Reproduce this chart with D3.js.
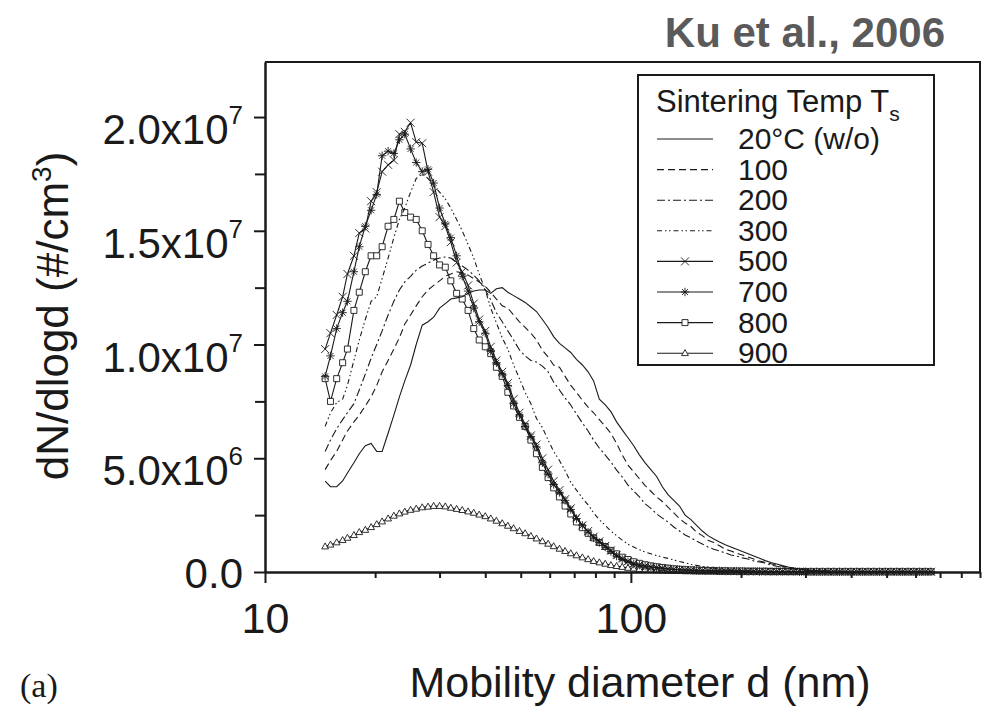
<!DOCTYPE html>
<html>
<head>
<meta charset="utf-8">
<script src="https://cdn.jsdelivr.net/npm/d3@7"></script>
<style>
  body { margin: 0; background: #fff; }
</style>
</head>
<body>
<div id="chart"></div>
<script>
'use strict';

// SMPS channel midpoints (nm)
const diameters = [
  14.6, 15.1, 15.7, 16.3, 16.8, 17.5, 18.1, 18.8, 19.5, 20.2,
  20.9, 21.7, 22.5, 23.3, 24.1, 25.0, 25.9, 26.9, 27.9, 28.9,
  30.0, 31.1, 32.2, 33.4, 34.6, 35.9, 37.2, 38.5, 40.0, 41.4,
  42.9, 44.5, 46.1, 47.8, 49.6, 51.4, 53.3, 55.2, 57.3, 59.4,
  61.5, 63.8, 66.1, 68.5, 71.0, 73.7, 76.4, 79.1, 82.0, 85.1,
  88.2, 91.4, 94.7, 98.2, 101.8, 105.5, 109.4, 113.4, 117.6, 121.9,
  126.3, 131.0, 135.8, 140.7, 145.9, 151.2, 156.8, 162.5, 168.5, 174.7,
  181.1, 187.7, 194.6, 201.7, 209.1, 216.7, 224.7, 232.9, 241.4, 250.3,
  259.5, 269.0, 278.8, 289.0, 299.6, 310.6, 322.0, 333.8, 346.0, 358.7,
  371.8, 385.4, 399.5, 414.2, 429.4, 445.1, 461.4, 478.3, 495.8, 514.0,
  532.8, 552.3, 572.5, 593.5, 615.3, 637.8, 661.2
];

// dN/dlogd in units of 1e6 #/cm3
const t20 = [
  4.0, 3.75, 3.75, 4.0, 4.35, 4.8, 5.2, 5.55, 5.65, 5.3,
  5.3, 6.1, 6.9, 7.7, 8.4, 9.1, 10.0, 10.85, 11.0, 11.2,
  11.6, 11.8, 12.0, 12.05, 12.1, 12.25, 12.35, 12.4, 12.4, 12.25,
  12.45, 12.5, 12.3, 12.15, 12.0, 11.85, 11.65, 11.45, 11.1, 10.75,
  10.35, 10.05, 9.85, 9.65, 9.35, 9.1, 8.8, 8.4, 7.6, 7.35,
  7.05, 6.6, 6.25, 5.9, 5.55, 5.15, 4.8, 4.5, 4.2, 3.75,
  3.4, 3.15, 2.9, 2.5, 2.3, 2.05, 1.8, 1.6, 1.45, 1.32,
  1.2, 1.1, 1.0, 0.9, 0.8, 0.7, 0.6, 0.5, 0.42, 0.35,
  0.28, 0.22, 0.17, 0.13, 0.1, 0.07, 0.05, 0.04, 0.03, 0.03,
  0.02, 0.02, 0.02, 0.01, 0.01, 0.01, 0.01, 0.01, 0.01, 0.01,
  0.01, 0.01, 0.0, 0.01, 0.0, 0.0, 0.01
];
const t100 = [
  4.5, 4.9, 5.3, 5.8, 6.2, 6.6, 6.9, 7.3, 7.7, 8.2,
  8.8, 9.3, 9.8, 10.3, 10.9, 11.3, 11.7, 12.1, 12.4, 12.6,
  12.8, 13.0, 13.1, 13.2, 13.15, 13.05, 12.9, 12.75, 12.55, 12.3,
  12.0, 11.7, 11.6, 11.3, 11.0, 10.75, 10.5, 10.2, 9.75, 9.45,
  9.1, 9.0, 8.6, 8.2, 7.9, 7.55, 7.25, 7.0, 6.7, 6.4,
  6.1, 5.65, 5.15, 4.7, 4.4, 4.1, 3.8, 3.55, 3.3, 3.1,
  2.85, 2.6, 2.35, 2.15, 2.0, 1.75, 1.6, 1.4, 1.3, 1.15,
  1.0, 0.92, 0.83, 0.75, 0.66, 0.57, 0.48, 0.42, 0.36, 0.3,
  0.25, 0.2, 0.16, 0.13, 0.1, 0.08, 0.06, 0.05, 0.04, 0.03,
  0.03, 0.02, 0.02, 0.02, 0.01, 0.01, 0.01, 0.01, 0.01, 0.01,
  0.01, 0.0, 0.01, 0.0, 0.0, 0.01, 0.0
];
const t200 = [
  5.3, 5.8, 6.3, 6.7, 7.0, 7.4, 8.0, 8.7, 9.4, 10.0,
  10.6, 11.3, 11.9, 12.4, 12.75, 13.0, 13.27, 13.45, 13.58, 13.71,
  13.8, 13.85, 13.8, 13.6, 13.45, 13.27, 13.05, 12.8, 12.4, 11.96,
  11.4, 11.0, 10.6, 10.2, 9.76, 9.5, 9.3, 9.23, 9.05, 8.8,
  8.35, 8.0, 7.65, 7.34, 6.95, 6.55, 6.2, 5.8, 5.45, 5.14,
  4.84, 4.48, 4.18, 3.82, 3.56, 3.3, 3.0, 2.8, 2.55, 2.37,
  2.2, 1.98, 1.8, 1.63, 1.5, 1.36, 1.23, 1.1, 1.0, 0.92,
  0.84, 0.75, 0.7, 0.62, 0.57, 0.48, 0.44, 0.4, 0.3, 0.25,
  0.2, 0.16, 0.13, 0.1, 0.08, 0.06, 0.05, 0.04, 0.03, 0.02,
  0.02, 0.02, 0.01, 0.01, 0.01, 0.01, 0.01, 0.01, 0.0, 0.01,
  0.01, 0.0, 0.0, 0.01, 0.0, 0.0, 0.0
];
const t300 = [
  6.4, 7.0, 7.45, 7.6, 8.2, 9.3, 10.2, 11.1, 11.9, 12.1,
  12.9, 13.8, 14.7, 15.5, 16.0, 16.7, 17.3, 17.5, 17.3, 17.0,
  16.7, 16.4, 16.0, 15.5, 15.0, 14.4, 13.8, 13.1, 12.4, 11.6,
  10.95, 10.3, 9.8, 9.1, 8.5, 7.9, 7.4, 6.75, 6.35, 5.8,
  5.3, 4.9, 4.45, 3.95, 3.6, 3.25, 2.95, 2.6, 2.3, 2.05,
  1.8, 1.6, 1.4, 1.22, 1.1, 0.98, 0.88, 0.8, 0.72, 0.66,
  0.6, 0.53, 0.46, 0.4, 0.34, 0.29, 0.25, 0.21, 0.17, 0.14,
  0.11, 0.09, 0.07, 0.06, 0.05, 0.04, 0.03, 0.03, 0.02, 0.02,
  0.02, 0.01, 0.01, 0.01, 0.01, 0.01, 0.01, 0.0, 0.01, 0.0,
  0.0, 0.01, 0.0, 0.0, 0.0, 0.0, 0.0, 0.0, 0.0, 0.0,
  0.0, 0.0, 0.0, 0.0, 0.0, 0.0, 0.0
];
const t500 = [
  9.8, 10.5, 11.3, 12.1, 13.1, 13.9, 14.9, 15.1, 16.3, 16.7,
  17.6, 17.9, 18.1, 19.25, 19.35, 19.75, 18.9, 18.85, 17.6, 16.7,
  15.6, 15.2, 14.5, 13.6, 13.2, 12.6, 11.8, 11.1, 10.6, 9.9,
  9.3, 8.8, 8.3, 7.6, 7.0, 6.5, 6.0, 5.6, 5.0, 4.5,
  4.0, 3.6, 3.2, 2.8, 2.4, 2.05, 1.8, 1.55, 1.35, 1.15,
  0.95, 0.75, 0.6, 0.48, 0.38, 0.32, 0.27, 0.23, 0.2, 0.17,
  0.14, 0.12, 0.1, 0.09, 0.08, 0.07, 0.06, 0.06, 0.05, 0.05,
  0.04, 0.04, 0.04, 0.03, 0.03, 0.03, 0.03, 0.02, 0.02, 0.02,
  0.02, 0.02, 0.02, 0.02, 0.01, 0.01, 0.01, 0.01, 0.01, 0.01,
  0.01, 0.01, 0.01, 0.01, 0.01, 0.01, 0.01, 0.01, 0.01, 0.01,
  0.01, 0.01, 0.01, 0.01, 0.01, 0.01, 0.01
];
const t700 = [
  8.6, 9.5, 10.7, 11.4, 11.9, 13.2, 14.3, 15.2, 15.9, 16.6,
  18.3, 18.5, 18.4, 19.0, 19.25, 18.6, 18.0, 17.6, 17.7, 17.1,
  16.0, 15.3, 14.7, 13.9, 13.0, 12.35, 11.6, 11.0, 10.5, 9.7,
  9.2, 8.7, 8.2, 7.4, 6.9, 6.4, 5.95, 5.5, 4.8, 4.3,
  3.85, 3.5, 3.15, 2.75, 2.35, 2.05, 1.75, 1.5, 1.3, 1.1,
  0.9, 0.7, 0.55, 0.45, 0.35, 0.3, 0.26, 0.22, 0.19, 0.16,
  0.13, 0.11, 0.1, 0.09, 0.08, 0.07, 0.06, 0.06, 0.05, 0.05,
  0.04, 0.04, 0.04, 0.03, 0.03, 0.03, 0.02, 0.02, 0.02, 0.02,
  0.02, 0.02, 0.02, 0.01, 0.01, 0.01, 0.01, 0.01, 0.01, 0.01,
  0.01, 0.01, 0.01, 0.01, 0.01, 0.01, 0.01, 0.01, 0.01, 0.01,
  0.01, 0.01, 0.01, 0.01, 0.01, 0.01, 0.01
];
const t800 = [
  8.5, 7.5, 8.5, 9.2, 9.8, 11.5, 12.3, 13.2, 13.9, 13.9,
  14.3, 15.2, 15.5, 16.3, 15.8, 15.6, 15.5, 15.0, 14.4, 13.9,
  13.5, 13.4, 12.8, 12.25, 12.0, 11.5, 10.7, 10.2, 9.9, 9.6,
  9.0, 8.6, 7.9, 7.3, 6.8, 6.4, 5.8, 5.2, 4.6, 4.15,
  3.7, 3.3, 2.9, 2.55, 2.2, 1.95, 1.7, 1.5, 1.3, 1.12,
  0.95, 0.8, 0.65, 0.55, 0.45, 0.38, 0.32, 0.27, 0.23, 0.2,
  0.17, 0.14, 0.12, 0.1, 0.09, 0.08, 0.07, 0.06, 0.06, 0.05,
  0.05, 0.04, 0.04, 0.04, 0.03, 0.03, 0.03, 0.03, 0.02, 0.02,
  0.02, 0.02, 0.02, 0.02, 0.02, 0.01, 0.01, 0.01, 0.01, 0.01,
  0.01, 0.01, 0.01, 0.01, 0.01, 0.01, 0.01, 0.01, 0.01, 0.01,
  0.01, 0.01, 0.01, 0.01, 0.01, 0.01, 0.01
];
const t900 = [
  1.12, 1.2, 1.3, 1.4, 1.5, 1.62, 1.75, 1.85, 1.97, 2.1,
  2.22, 2.35, 2.47, 2.57, 2.65, 2.73, 2.78, 2.84, 2.87, 2.9,
  2.9, 2.88, 2.82, 2.77, 2.72, 2.66, 2.6, 2.52, 2.45, 2.35,
  2.25, 2.14, 2.03, 1.92, 1.8, 1.7, 1.58, 1.47, 1.35, 1.24,
  1.13, 1.02, 0.92, 0.82, 0.73, 0.64, 0.56, 0.48, 0.42, 0.36,
  0.3, 0.26, 0.22, 0.18, 0.15, 0.12, 0.1, 0.08, 0.07, 0.06,
  0.05, 0.04, 0.04, 0.03, 0.03, 0.02, 0.02, 0.02, 0.02, 0.01,
  0.01, 0.01, 0.01, 0.01, 0.01, 0.01, 0.01, 0.01, 0.01, 0.01,
  0.01, 0.01, 0.01, 0.01, 0.01, 0.01, 0.01, 0.01, 0.01, 0.01,
  0.01, 0.01, 0.01, 0.01, 0.01, 0.01, 0.01, 0.01, 0.01, 0.01,
  0.01, 0.01, 0.01, 0.01, 0.01, 0.01, 0.01
];

const series_names = ['20°C (w/o)', '100', '200', '300', '500', '700', '800', '900'];
const series_values = [t20, t100, t200, t300, t500, t700, t800, t900];

const y_ticks = [0, 5e6, 1e7, 1.5e7, 2e7];
const y_minor_ticks = [2.5e6, 7.5e6, 1.25e7, 1.75e7];
const y_tick_labels = [['0.0', ''], ['5.0x10', '6'], ['1.0x10', '7'], ['1.5x10', '7'], ['2.0x10', '7']];
const x_ticks = [10, 100];
const x_minor_ticks = [20, 30, 40, 50, 60, 70, 80, 90, 200, 300, 400, 500, 600, 700, 800, 900];
const x_tick_labels = ['10', '100'];

// line style per series
const styles = [
  {dash: null, marker: null},
  {dash: '7,4', marker: null},
  {dash: '8,3,2,3', marker: null},
  {dash: '5,3,1.5,2.5,1.5,3', marker: null},
  {dash: null, marker: 'times'},
  {dash: null, marker: 'asterisk'},
  {dash: null, marker: 'square'},
  {dash: null, marker: 'triangle'}
];

const font = "'Liberation Sans', Arial, Helvetica, sans-serif";
const ink = '#1a1a1a';

function marker_path(type){
  if(type === 'times'){
    const s = 4;
    return `M${-s},${-s}L${s},${s}M${-s},${s}L${s},${-s}`;
  }else if(type === 'asterisk'){
    const s = 4.2, k = 3;
    return `M0,${-s}V${s}M${-s},0H${s}M${-k},${-k}L${k},${k}M${-k},${k}L${k},${-k}`;
  }else if(type === 'square'){
    const s = 3;
    return `M${-s},${-s}H${s}V${s}H${-s}Z`;
  }else if(type === 'triangle'){
    return 'M0,-3.6L3.4,2.4H-3.4Z';
  }
  return '';
}

function draw_chart(options){
  const chart = {
    chart_id: 'chart',
    width: 987,
    height: 708,
    margin_left: 265,
    margin_right: 7,
    margin_top: 62,
    margin_bottom: 136
  };
  Object.keys(options).map(function(key){
    if(options[key] !== null && typeof(chart[key]) !== 'undefined'){
      chart[key] = options[key];
    }
  });

  const dims = {
    width: chart.width,
    height: chart.height,
    margin: {top: chart.margin_top, bottom: chart.margin_bottom, left: chart.margin_left, right: chart.margin_right}
  };
  dims.ctrWidth = dims.width - dims.margin.left - dims.margin.right;
  dims.ctrHeight = dims.height - dims.margin.top - dims.margin.bottom;

  const svg_el = d3.select('#' + chart.chart_id)
    .append('svg')
    .attr('width', dims.width)
    .attr('height', dims.height)
    .style('font-family', font);

  const chart_g = svg_el.append('g')
    .attr('transform', `translate(${dims.margin.left}, ${dims.margin.top})`);

  // scales
  const x_scale = d3.scaleLog()
    .domain([10, 900])
    .range([0, dims.ctrWidth]);

  const y_scale = d3.scaleLinear()
    .domain([0, 2.242e7])
    .range([dims.ctrHeight, 0]);

  // curves
  const line = d3.line()
    .x(d => x_scale(d.d))
    .y(d => y_scale(d.v * 1e6));

  const series = series_values.map((vals, i) => {
    return {name: series_names[i], style: styles[i], points: diameters.map((d, j) => ({d: d, v: vals[j]}))};
  });

  const curves_g = chart_g.append('g');
  series.slice().reverse().forEach(s => {
    curves_g.append('path')
      .datum(s.points)
      .attr('d', line)
      .attr('fill', 'none')
      .attr('stroke', ink)
      .attr('stroke-width', 1.1)
      .attr('stroke-dasharray', s.style.dash);

    if(s.style.marker !== null){
      const filled = s.style.marker === 'square' || s.style.marker === 'triangle';
      curves_g.append('g')
        .selectAll('path')
        .data(s.points)
        .join('path')
        .attr('transform', d => `translate(${x_scale(d.d)},${y_scale(d.v * 1e6)})`)
        .attr('d', marker_path(s.style.marker))
        .attr('fill', filled ? '#fff' : 'none')
        .attr('stroke', ink)
        .attr('stroke-width', 0.9);
    }
  });

  // frame on top and right
  chart_g.append('path')
    .attr('d', `M0,0H${dims.ctrWidth}V${dims.ctrHeight}`)
    .attr('fill', 'none')
    .attr('stroke', ink)
    .attr('stroke-width', 2);

  // x axis
  const x_axis_g = chart_g.append('g')
    .attr('transform', `translate(0,${dims.ctrHeight})`);
  x_axis_g.call(d3.axisBottom(x_scale).tickValues(x_minor_ticks).tickSize(6).tickSizeOuter(0).tickFormat(''));
  x_axis_g.append('g').call(d3.axisBottom(x_scale).tickValues(x_ticks).tickSize(11).tickSizeOuter(0)
    .tickFormat((d, i) => x_tick_labels[i]));
  x_axis_g.selectAll('.domain').attr('stroke', ink).attr('stroke-width', 2);
  x_axis_g.selectAll('line').attr('stroke', ink).attr('stroke-width', 2);
  x_axis_g.selectAll('text')
    .attr('y', 30)
    .attr('dy', '0.71em')
    .attr('fill', ink)
    .style('font-family', font)
    .style('font-size', '43px');

  // y axis
  const y_axis_g = chart_g.append('g');
  y_axis_g.call(d3.axisLeft(y_scale).tickValues(y_minor_ticks).tickSize(10).tickSizeOuter(0).tickFormat(''));
  y_axis_g.append('g').call(d3.axisLeft(y_scale).tickValues(y_ticks).tickSize(11).tickSizeOuter(0).tickFormat(''));
  y_axis_g.selectAll('.domain').attr('stroke', ink).attr('stroke-width', 2);
  y_axis_g.selectAll('line').attr('stroke', ink).attr('stroke-width', 2);

  // y tick labels with exponents
  const y_labels = y_axis_g.append('g')
    .style('font-size', '42px')
    .attr('fill', ink)
    .attr('text-anchor', 'end');
  y_ticks.forEach((t, i) => {
    const lab = y_tick_labels[i];
    const txt = y_labels.append('text')
      .attr('x', -22)
      .attr('y', y_scale(t) + (lab[1] === '' ? 16 : 27));
    txt.append('tspan').text(lab[0]);
    if(lab[1] !== ''){
      txt.append('tspan')
        .attr('dy', -20)
        .style('font-size', '26px')
        .text(lab[1]);
    }
  });

  // axis titles
  const y_title = svg_el.append('text')
    .attr('transform', `translate(68,${dims.margin.top + 254}) rotate(-90)`)
    .attr('text-anchor', 'middle')
    .attr('fill', ink)
    .style('font-size', '44px');
  y_title.append('tspan').text('dN/dlogd (#/cm');
  y_title.append('tspan').attr('dy', -17).style('font-size', '28px').text('3');
  y_title.append('tspan').attr('dy', 17).text(')');

  svg_el.append('text')
    .attr('x', 640)
    .attr('y', 697)
    .attr('text-anchor', 'middle')
    .attr('fill', ink)
    .style('font-size', '43px')
    .text('Mobility diameter d (nm)');

  svg_el.append('text')
    .attr('x', 20)
    .attr('y', 697)
    .attr('fill', ink)
    .style('font-family', "'Liberation Serif', 'Times New Roman', serif")
    .style('font-size', '34px')
    .text('(a)');

  // source title
  svg_el.append('text')
    .attr('x', 945)
    .attr('y', 47)
    .attr('text-anchor', 'end')
    .attr('fill', '#5a5a5a')
    .style('font-weight', 'bold')
    .style('font-size', '42px')
    .text('Ku et al., 2006');

  // legend
  const lg = svg_el.append('g');
  lg.append('rect')
    .attr('x', 638)
    .attr('y', 75)
    .attr('width', 296)
    .attr('height', 290)
    .attr('fill', '#fff')
    .attr('stroke', ink)
    .attr('stroke-width', 2);

  const lg_title = lg.append('text')
    .attr('x', 656)
    .attr('y', 112)
    .attr('fill', ink)
    .style('font-size', '31px');
  lg_title.append('tspan').text('Sintering Temp T');
  lg_title.append('tspan').attr('dy', 9).style('font-size', '21px').text('s');

  const rows = lg.selectAll('g.row')
    .data(series)
    .join('g')
    .attr('class', 'row')
    .attr('transform', (d, i) => `translate(0,${139 + i * 30.6})`);

  rows.append('line')
    .attr('x1', 657)
    .attr('x2', 713)
    .attr('stroke', ink)
    .attr('stroke-width', 1.1)
    .attr('stroke-dasharray', d => d.style.dash);

  rows.filter(d => d.style.marker !== null)
    .append('path')
    .attr('transform', 'translate(685,0)')
    .attr('d', d => marker_path(d.style.marker))
    .attr('fill', d => (d.style.marker === 'square' || d.style.marker === 'triangle') ? '#fff' : 'none')
    .attr('stroke', ink)
    .attr('stroke-width', 0.9);

  rows.append('text')
    .attr('x', 738)
    .attr('y', 10)
    .attr('fill', ink)
    .style('font-size', '30px')
    .text(d => d.name);
}

draw_chart({});
</script>
</body>
</html>
